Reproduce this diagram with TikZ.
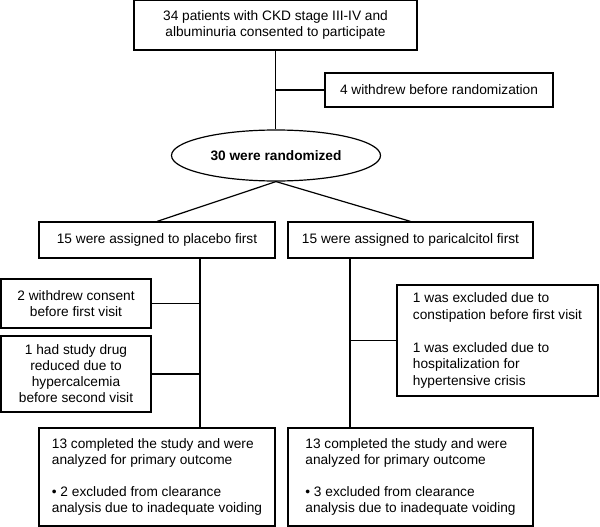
\documentclass[tikz,border=0pt]{standalone}
\usepackage{fontspec}
\setmainfont{Liberation Sans}
\usetikzlibrary{shapes.geometric}
\begin{document}
\begin{tikzpicture}[x=1pt,y=-1pt,line width=1.2pt,
  every node/.style={font=\fontsize{13.7}{16}\selectfont},
  box/.style={draw, rectangle, inner sep=0pt, align=center},
  lbox/.style={draw, rectangle, inner sep=0pt, align=left},
  oval/.style={draw, ellipse, inner sep=0pt, font=\fontsize{13.7}{16}\selectfont\bfseries}]
\useasboundingbox (0,0) rectangle (600,527);
% nodes
\node[box, minimum width=283pt, minimum height=50pt] (top) at (275.5,25)
  {34 patients with CKD stage III-IV and\\albuminuria consented to participate};
\node[box, minimum width=228pt, minimum height=34pt] (wd) at (439,90)
  {4 withdrew before randomization};
\node[oval, minimum width=209pt, minimum height=51pt] (ell) at (276,155.5)
  {30 were randomized};
\node[box, minimum width=236pt, minimum height=36pt] (plac) at (157,240)
  {15 were assigned to placebo first};
\node[box, minimum width=245pt, minimum height=36pt] (pari) at (410.5,240)
  {15 were assigned to paricalcitol first};
\node[box, minimum width=150pt, minimum height=49pt] (lb1) at (76,303.5)
  {2 withdrew consent\\before first visit};
\node[box, minimum width=150pt, minimum height=76pt] (lb2) at (76,374)
  {1 had study drug\\reduced due to\\hypercalcemia\\before second visit};
\node[lbox, minimum width=201pt, minimum height=111pt,
  font=\fontsize{13.7}{16.6}\selectfont] (rb) at (497.5,340.5)
  {1 was excluded due to\\constipation before first visit\\[16.6pt]1 was excluded due to\\hospitalization for\\hypertensive crisis};
\node[lbox, minimum width=236pt, minimum height=98pt] (bl) at (157,477)
  {13 completed the study and were\\analyzed for primary outcome\\[16pt]\textbullet\ 2 excluded from clearance\\analysis due to inadequate voiding};
\node[lbox, minimum width=245pt, minimum height=98pt] (br) at (410.5,477)
  {13 completed the study and were\\analyzed for primary outcome\\[16pt]\textbullet\ 3 excluded from clearance\\analysis due to inadequate voiding};
% coordinates for vertical trunks
\coordinate (lt) at (200,258);
\coordinate (lbtm) at (200,428);
\coordinate (rt) at (350,258);
\coordinate (rbtm) at (350,428);
% connectors
\draw (top.south) -- (top.south |- ell.north);
\draw (top.south |- wd.west) -- (wd.west);
\draw (ell.south) -- (plac.north);
\draw (ell.south) -- (pari.north);
\draw (lt) -- (lbtm);
\draw (lt |- lb1.east) -- (lb1.east);
\draw (lt |- lb2.east) -- (lb2.east);
\draw (rt) -- (rbtm);
\draw (rt |- rb.west) -- (rb.west);
\end{tikzpicture}
\end{document}
